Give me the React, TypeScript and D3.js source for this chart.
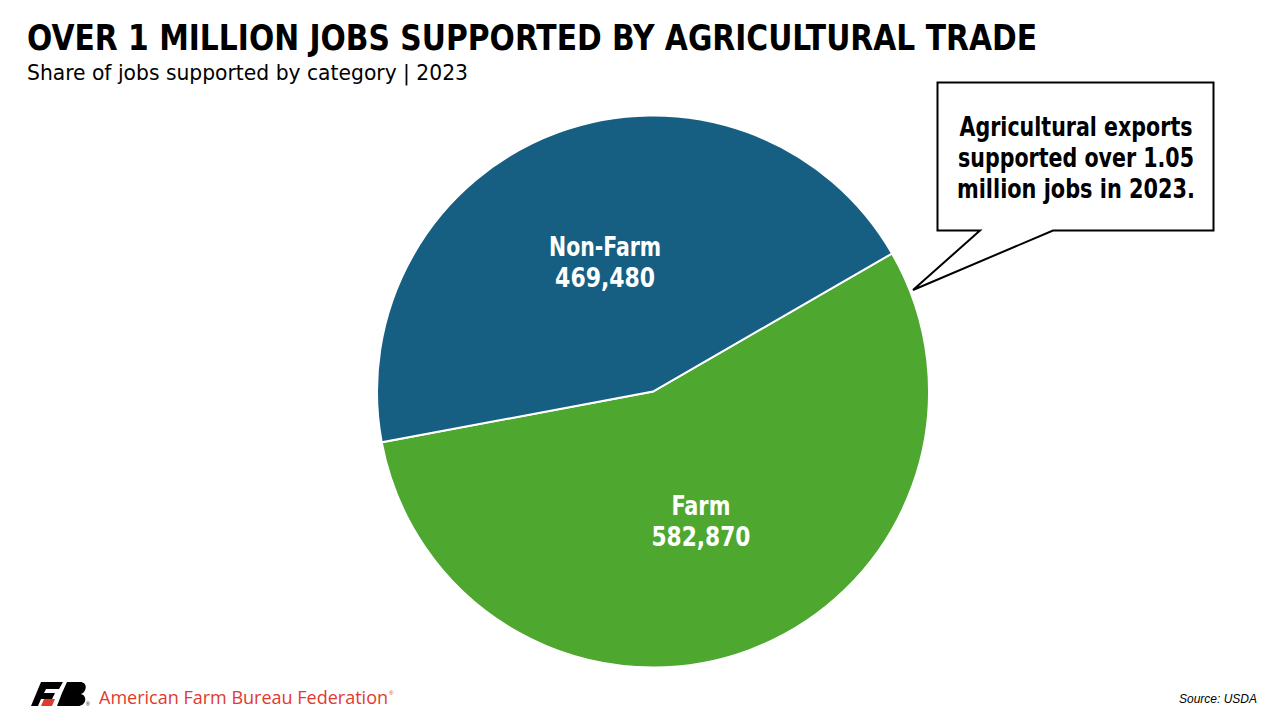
import React from "react";
import * as d3 from "d3";

const categories = ["Farm", "Non-Farm"];
const values = [582870, 469480];
const colors = ["#4EA72E", "#175F82"];
const title = "OVER 1 MILLION JOBS SUPPORTED BY AGRICULTURAL TRADE";
const subtitle = "Share of jobs supported by category | 2023";
const calloutLines = ["Agricultural exports", "supported over 1.05", "million jobs in 2023."];

const W = 1280;
const H = 720;
const cx = 653;
const cy = 391.5;
const R = 276;
const condensed = "'Liberation Sans Narrow', 'DejaVu Sans Condensed', 'Roboto Condensed', sans-serif";
const labelNameLen = [59, 112];
const labelValLen = [99, 100];
const calloutLen = [233, 236, 238];

export default function App() {
  const pie = d3
    .pie<number>()
    .sort(null)
    .startAngle((60 * Math.PI) / 180)
    .endAngle((420 * Math.PI) / 180)
    .value((d) => d);
  const arcs = pie(values);
  const arc = d3.arc<d3.PieArcDatum<number>>().innerRadius(0).outerRadius(R);
  const fmt = d3.format(",");

  return (
    <svg
      width={W}
      height={H}
      style={{ position: "absolute", left: 0, top: 0, background: "#fff" }}
    >
      <rect width={W} height={H} fill="#fff" />
      <text x={27} y={50} fontFamily={condensed} fontWeight={700} fontSize={35} fill="#000"
        textLength={1010} lengthAdjust="spacingAndGlyphs">
        {title}
      </text>
      <text x={27} y={80} fontFamily={condensed} fontSize={21} fill="#000"
        textLength={441} lengthAdjust="spacingAndGlyphs">
        {subtitle}
      </text>

      <g transform={`translate(${cx},${cy})`}>
        {arcs.map((a, i) => (
          <path key={categories[i]} d={arc(a) || ""} fill={colors[i]} stroke="#fff" strokeWidth={2} />
        ))}
        {arcs.map((a, i) => {
          const [x, y] = arc.centroid(a);
          return (
            <g key={"l" + i}>
              <text x={x} y={y - 6} textAnchor="middle" fontFamily={condensed} fontWeight={700}
                fontSize={26} fill="#fff" textLength={labelNameLen[i]} lengthAdjust="spacingAndGlyphs">
                {categories[i]}
              </text>
              <text x={x} y={y + 25} textAnchor="middle" fontFamily={condensed} fontWeight={700}
                fontSize={26} fill="#fff" textLength={labelValLen[i]} lengthAdjust="spacingAndGlyphs">
                {fmt(values[i])}
              </text>
            </g>
          );
        })}
      </g>

      {/* callout */}
      <path
        d="M937.5,82.5 H1213.5 V230.5 H1053 L913,290 L980,230.5 H937.5 Z"
        fill="#fff"
        stroke="#000"
        strokeWidth={2}
        strokeLinejoin="miter"
      />
      {calloutLines.map((t, i) => (
        <text
          key={t}
          x={1076}
          y={136 + i * 31}
          textAnchor="middle"
          fontFamily={condensed}
          fontWeight={700}
          fontSize={26}
          fill="#000"
          textLength={calloutLen[i]}
          lengthAdjust="spacingAndGlyphs"
        >
          {t}
        </text>
      ))}

      {/* logo */}
      <g>
        <path d="M41,682 L63,682 L59,689 L46,689 L44,693 L55,693 L52,699 L41,699 L38,706 L31,706 Z" fill="#000" />
        <path d="M44,699 L55,699 L52,706 L41,706 Z" fill="#E03A2F" />
        <path d="M62,693 L57,706 L78,706 C86,706 88,696 81,694 C87,692 88,682 80,682 L67,682 Z" fill="#000" />
        <text x={86} y={706} fontFamily="Arial, 'Liberation Sans', sans-serif" fontSize={5} fill="#000">®</text>
      </g>
      <text
        x={99}
        y={704}
        fontFamily="'Open Sans', 'Noto Sans', sans-serif"
        fontSize={17.5}
        fill="#E03A2F"
        textLength={289}
        lengthAdjust="spacingAndGlyphs"
      >
        American Farm Bureau Federation
      </text>
      <text x={389} y={695} fontFamily="Arial, 'Liberation Sans', sans-serif" fontSize={6} fill="#E03A2F">®</text>

      <text
        x={1257}
        y={703}
        textAnchor="end"
        fontFamily="'Liberation Sans', Arial, sans-serif"
        fontStyle="italic"
        fontSize={12}
        fill="#000"
      >
        Source: USDA
      </text>
    </svg>
  );
}
